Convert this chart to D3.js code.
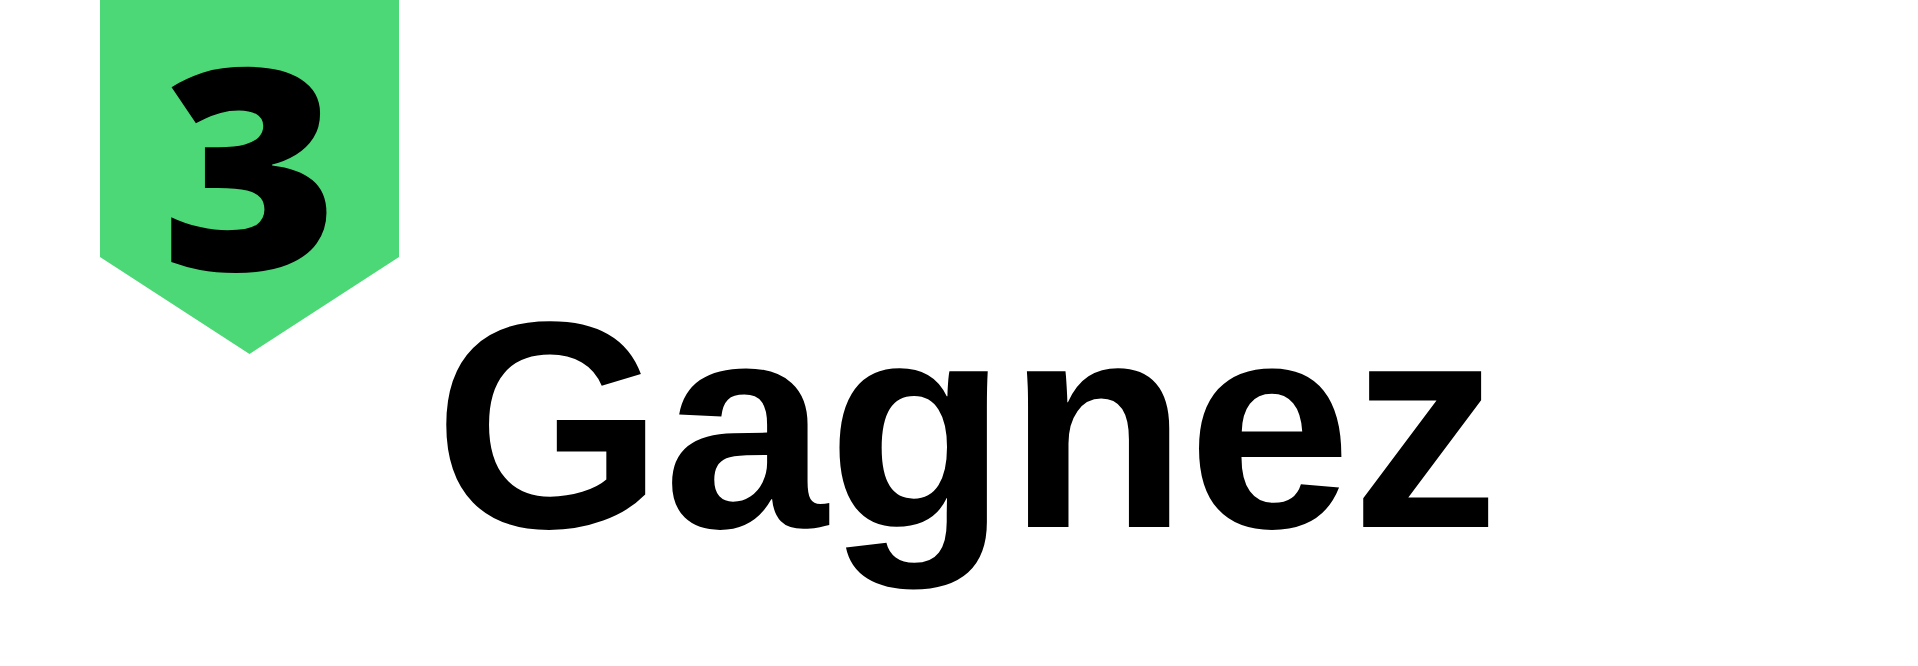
<!DOCTYPE html>
<html>
<head>
<meta charset="utf-8">
<script src="https://cdn.jsdelivr.net/npm/d3@7"></script>
<style>
html,body{margin:0;padding:0;background:#fff;overflow:hidden;}
svg{display:block;}
</style>
</head>
<body>
<svg id="chart" width="1918" height="666"></svg>
<script>
const stepNumbers = ["3"];
const stepTitles = ["Gagnez"];
const badgeColors = ["#4cd877"];

const W = 1918, H = 666;
const svg = d3.select("#chart");
svg.append("rect").attr("width", W).attr("height", H).attr("fill", "#fff");

// badge geometry
const badge = {x0: 100, x1: 399, y1: 257, tip: 354};
const cx = (badge.x0 + badge.x1) / 2;
const pts = [[badge.x0, 0], [badge.x1, 0], [badge.x1, badge.y1], [cx, badge.tip], [badge.x0, badge.y1]];

svg.selectAll("path.badge").data(badgeColors).join("path")
  .attr("class", "badge")
  .attr("d", d3.line()(pts) + "Z")
  .attr("fill", d => d);

const numFamily = "'Open Sans', 'DejaVu Sans', sans-serif";
const numWeight = 800;
const titleFamily = "'Liberation Sans', Arial, sans-serif";
const titleWeight = 700;

// target ink boxes
const numBox = {left: 170, right: 328, top: 68, bottom: 273};
const titleBox = {left: 446, right: 1490, baseline: 527};

function measure(txt, weight, family) {
  const c = document.createElement("canvas").getContext("2d");
  c.font = `${weight} 100px ${family}`;
  c.textAlign = "left";
  c.textBaseline = "alphabetic";
  const m = c.measureText(txt);
  return {l: m.actualBoundingBoxLeft, r: m.actualBoundingBoxRight, a: m.actualBoundingBoxAscent, d: m.actualBoundingBoxDescent};
}

function draw() {
  // number
  const mn = measure(stepNumbers[0], numWeight, numFamily);
  let nSize = 284, nsx = 1, nx = cx, anchor = "middle", useFit = false;
  if (mn && mn.a > 0 && (mn.l + mn.r) > 0) {
    useFit = true;
    const inkH = mn.a + mn.d;
    nSize = (numBox.bottom - numBox.top) / inkH * 100;
    const inkW = (mn.l + mn.r) * nSize / 100;
    nsx = (numBox.right - numBox.left) / inkW;
  }
  const numG = svg.selectAll("g.num").data(stepNumbers).join("g").attr("class", "num");
  if (useFit) {
    const baseY = numBox.bottom - mn.d * nSize / 100;
    const x0 = numBox.left + mn.l * nSize / 100 * nsx;
    numG.attr("transform", `translate(${x0},${baseY}) scale(${nsx},1)`);
    anchor = "start";
  } else {
    numG.attr("transform", `translate(${cx},272)`);
  }
  numG.selectAll("text").data(d => [d]).join("text")
    .attr("x", 0).attr("y", 0)
    .attr("text-anchor", anchor)
    .attr("font-family", numFamily)
    .attr("font-weight", numWeight)
    .attr("font-size", nSize)
    .attr("fill", "#000")
    .text(d => d);

  // title
  const mt = measure(stepTitles[0], titleWeight, titleFamily);
  let tSize = 292, tx = 957, tAnchor = "middle";
  if (mt && (mt.l + mt.r) > 0) {
    tSize = (titleBox.right - titleBox.left) / (mt.l + mt.r) * 100;
    tx = titleBox.left + mt.l * tSize / 100;
    tAnchor = "start";
  }
  svg.selectAll("text.title").data(stepTitles).join("text")
    .attr("class", "title")
    .attr("x", tx)
    .attr("y", titleBox.baseline)
    .attr("text-anchor", tAnchor)
    .attr("font-family", titleFamily)
    .attr("font-weight", titleWeight)
    .attr("font-size", tSize)
    .attr("fill", "#000")
    .text(d => d);
}

const loads = [
  `${numWeight} 100px ${numFamily}`,
  `${titleWeight} 100px ${titleFamily}`
].map(f => document.fonts ? document.fonts.load(f, "3Gagnez").catch(() => null) : Promise.resolve());
draw();
Promise.all(loads).then(draw);
</script>
</body>
</html>
